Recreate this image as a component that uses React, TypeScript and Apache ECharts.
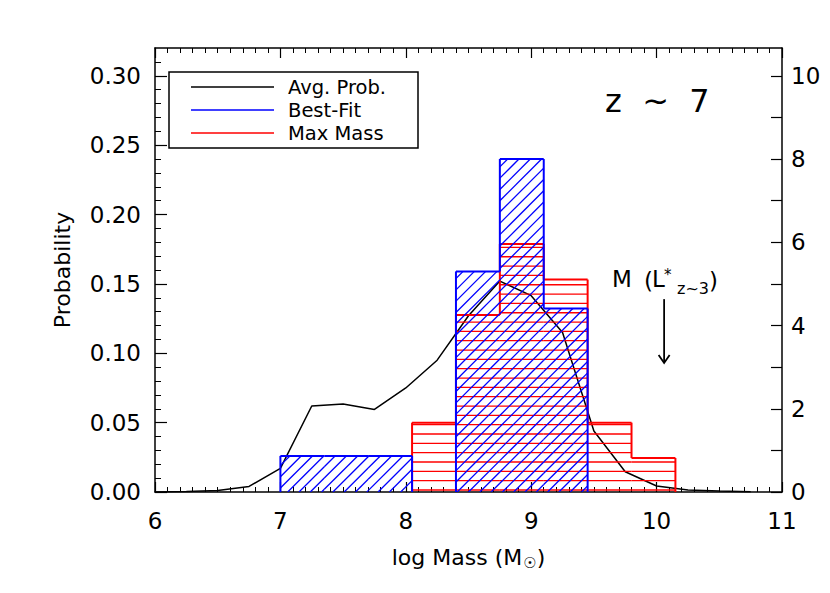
import React, { useEffect, useRef } from "react";
import * as echarts from "echarts";

// ---- data ----
const massGrid = [6.0, 6.25, 6.5, 6.75, 7.0, 7.25, 7.5, 7.75, 8.0, 8.25, 8.5, 8.75, 9.0, 9.25, 9.5, 9.75, 10.0, 10.25, 10.5, 10.75];
const avgProb = [0.0, 0.0004, 0.001, 0.004, 0.017, 0.062, 0.0635, 0.0595, 0.075, 0.095, 0.127, 0.152, 0.1415, 0.115, 0.044, 0.0146, 0.0043, 0.0015, 0.0007, 0.0002];

const binEdges = [7.0, 7.35, 7.7, 8.05, 8.4, 8.75, 9.1, 9.45, 9.8, 10.15];
const bestFit = [0.026, 0.026, 0.026, 0, 0.159, 0.24, 0.1322, 0, 0];
const maxMass = [0, 0, 0, 0.05, 0.1276, 0.1788, 0.1531, 0.05, 0.0245];

const leftTicks = [0, 0.05, 0.1, 0.15, 0.2, 0.25, 0.3];
const leftMinor = [0.01, 0.02, 0.03, 0.04, 0.06, 0.07, 0.08, 0.09, 0.11, 0.12, 0.13, 0.14, 0.16, 0.17, 0.18, 0.19, 0.21, 0.22, 0.23, 0.24, 0.26, 0.27, 0.28, 0.29, 0.31];
const rightTicks = [0, 1, 2, 3, 4, 5, 6, 7, 8, 9, 10];
const rightLabels = [0, 2, 4, 6, 8, 10];

const legendNames = ["Avg. Prob.", "Best-Fit", "Max Mass"];
const legendColors = ["#000000", "#0000ff", "#ff0000"];

const arrowMark = [10.06, 0.139, 0.093];

const FONT = "DejaVu Sans";

function binData(vals: number[]) {
  const out: number[][] = [];
  for (let i = 0; i < vals.length; i++) {
    if (vals[i] <= 0) continue;
    const prev = i > 0 ? vals[i - 1] : 0;
    const next = i < vals.length - 1 ? vals[i + 1] : 0;
    out.push([binEdges[i], binEdges[i + 1], vals[i], prev, next]);
  }
  return out;
}

function makeHistRender(color: string, hatch: "h" | "d") {
  return (params: any, api: any) => {
    const x0 = api.value(0), x1 = api.value(1), v = api.value(2), vp = api.value(3), vn = api.value(4);
    const pTop = api.coord([x0, v]);
    const pBase = api.coord([x1, 0]);
    const pPrev = api.coord([x0, vp]);
    const px0 = pTop[0], pyTop = pTop[1], px1 = pBase[0], pyBase = pBase[1];
    const children: any[] = [];
    const hs = { stroke: color, lineWidth: 1.3 };
    if (hatch === "h") {
      const sp = 9.33;
      for (let y = pyBase - 2; y > pyTop + 1; y -= sp) {
        children.push({ type: "line", shape: { x1: px0, y1: y, x2: px1, y2: y }, style: hs });
      }
    } else {
      const sp = 11.3;
      const cmin = px0 + pyTop, cmax = px1 + pyBase;
      for (let k = Math.ceil(cmin / sp); k * sp <= cmax; k++) {
        const c = k * sp;
        const xa = Math.max(px0, c - pyBase);
        const xb = Math.min(px1, c - pyTop);
        if (xb > xa + 0.5) {
          children.push({ type: "line", shape: { x1: xa, y1: c - xa, x2: xb, y2: c - xb }, style: hs });
        }
      }
    }
    const os = { stroke: color, lineWidth: 2 };
    children.push({ type: "line", shape: { x1: px0, y1: pPrev[1], x2: px0, y2: pyTop }, style: os });
    children.push({ type: "line", shape: { x1: px0, y1: pyTop, x2: px1, y2: pyTop }, style: os });
    if (vn === 0) {
      children.push({ type: "line", shape: { x1: px1, y1: pyTop, x2: px1, y2: pyBase }, style: os });
    }
    return { type: "group", children };
  };
}

export default function App() {
  const ref = useRef<HTMLDivElement>(null);
  useEffect(() => {
    if (!ref.current) return;
    const chart = echarts.init(ref.current, null, { renderer: "svg" });
    const black = "#000";
    const txt = (text: string, x: number, y: number, size: number, extra: any = {}) => ({
      type: "text",
      x,
      y,
      style: {
        text,
        fill: black,
        font: `${size}px "${FONT}"`,
        align: "left",
        verticalAlign: "middle",
        ...extra,
      },
    });
    const legendY = [87, 110, 133];
    const legendGraphic: any[] = [
      {
        type: "rect",
        shape: { x: 169, y: 72, width: 249, height: 76 },
        style: { fill: "#fff", stroke: black, lineWidth: 1.5 },
        z: 10,
      },
    ];
    legendNames.forEach((n, i) => {
      legendGraphic.push({
        type: "line",
        shape: { x1: 191, y1: legendY[i], x2: 274, y2: legendY[i] },
        style: { stroke: legendColors[i], lineWidth: 1.5 },
        z: 11,
      });
      legendGraphic.push({ ...txt(n, 288, legendY[i], 19.5), z: 11 });
    });
    const option: any = {
      animation: false,
      backgroundColor: "#fff",
      grid: { left: 155, right: 48, top: 48, bottom: 101, containLabel: false },
      xAxis: [
        {
          type: "value",
          position: "bottom",
          min: 6,
          max: 11,
          interval: 1,
          axisLine: { show: true, onZero: false, lineStyle: { color: black, width: 1.5 } },
          axisTick: { show: true, inside: true, length: 10, lineStyle: { color: black, width: 1.2 } },
          minorTick: { show: true, splitNumber: 10, length: 5, lineStyle: { color: black, width: 1 } },
          splitLine: { show: false },
          minorSplitLine: { show: false },
          axisLabel: { color: black, fontSize: 23, fontFamily: FONT, margin: 17 },
          name: "log Mass (M{sub|☉})",
          nameLocation: "middle",
          nameGap: 53,
          nameTextStyle: {
            color: black,
            fontSize: 22,
            fontFamily: FONT,
            rich: { sub: { fontSize: 15, color: black, fontFamily: FONT, padding: [10, 0, 0, 1] } },
          },
        },
        {
          type: "value",
          position: "top",
          min: 6,
          max: 11,
          interval: 1,
          axisLine: { show: true, onZero: false, lineStyle: { color: black, width: 1.5 } },
          axisTick: { show: true, inside: true, length: 10, lineStyle: { color: black, width: 1.2 } },
          minorTick: { show: true, splitNumber: 10, length: 5, lineStyle: { color: black, width: 1 } },
          splitLine: { show: false },
          axisLabel: { show: false },
        },
      ],
      yAxis: [
        {
          type: "value",
          position: "left",
          min: 0,
          max: 0.32,
          axisLine: { show: true, onZero: false, lineStyle: { color: black, width: 1.5 } },
          axisTick: { show: true, inside: true, length: 12, customValues: leftTicks, lineStyle: { color: black, width: 1.2 } },
          axisLabel: {
            color: black,
            fontSize: 23,
            fontFamily: FONT,
            margin: 14,
            customValues: leftTicks,
            formatter: (v: number) => v.toFixed(2),
          },
          splitLine: { show: false },
          name: "Probability",
          nameLocation: "middle",
          nameGap: 82,
          nameRotate: 90,
          nameTextStyle: { color: black, fontSize: 22, fontFamily: FONT },
        },
        {
          type: "value",
          position: "left",
          min: 0,
          max: 0.32,
          axisLine: { show: false },
          axisTick: { show: true, inside: true, length: 6, customValues: leftMinor, lineStyle: { color: black, width: 1 } },
          axisLabel: { show: false },
          splitLine: { show: false },
        },
        {
          type: "value",
          position: "right",
          min: 0,
          max: 0.32 / 0.03,
          axisLine: { show: true, onZero: false, lineStyle: { color: black, width: 1.5 } },
          axisTick: { show: true, inside: true, length: 11, customValues: rightTicks, lineStyle: { color: black, width: 1.2 } },
          axisLabel: { color: black, fontSize: 23, fontFamily: FONT, margin: 9, customValues: rightLabels },
          splitLine: { show: false },
        },
      ],
      series: [
        {
          name: legendNames[0],
          type: "line",
          xAxisIndex: 0,
          yAxisIndex: 0,
          data: massGrid.map((m, i) => [m, avgProb[i]]),
          showSymbol: false,
          symbol: "none",
          lineStyle: { color: legendColors[0], width: 1.5 },
          z: 2,
        },
        {
          name: legendNames[2],
          type: "custom",
          xAxisIndex: 0,
          yAxisIndex: 0,
          data: binData(maxMass),
          renderItem: makeHistRender(legendColors[2], "h"),
          clip: true,
          z: 3,
        },
        {
          name: legendNames[1],
          type: "custom",
          xAxisIndex: 0,
          yAxisIndex: 0,
          data: binData(bestFit),
          renderItem: makeHistRender(legendColors[1], "d"),
          clip: true,
          z: 4,
        },
        {
          name: "arrow",
          type: "custom",
          xAxisIndex: 0,
          yAxisIndex: 0,
          data: [arrowMark],
          renderItem: (params: any, api: any) => {
            const a = api.coord([api.value(0), api.value(1)]);
            const b = api.coord([api.value(0), api.value(2)]);
            return {
              type: "group",
              children: [
                { type: "line", shape: { x1: a[0], y1: a[1], x2: b[0], y2: b[1] }, style: { stroke: black, lineWidth: 1.8 } },
                {
                  type: "polyline",
                  shape: { points: [[b[0] - 5.5, b[1] - 8], [b[0], b[1]], [b[0] + 5.5, b[1] - 8]] },
                  style: { stroke: black, lineWidth: 1.8, fill: "none" },
                },
              ],
            };
          },
          z: 5,
        },
      ],
      graphic: [
        ...legendGraphic,
        { ...txt("z  ~  7", 605, 101, 32), z: 11 },
        { ...txt("M", 612, 279, 23), z: 11 },
        { ...txt("(", 644, 281, 23), z: 11 },
        { ...txt("L", 652, 279, 23), z: 11 },
        { ...txt("*", 664, 275, 15), z: 11 },
        { ...txt("z~3", 677, 288, 16), z: 11 },
        { ...txt(")", 709, 281, 23), z: 11 },
      ],
    };
    chart.setOption(option);
    return () => chart.dispose();
  }, []);
  return <div ref={ref} style={{ position: "fixed", left: 0, top: 0, width: 830, height: 593 }} />;
}
